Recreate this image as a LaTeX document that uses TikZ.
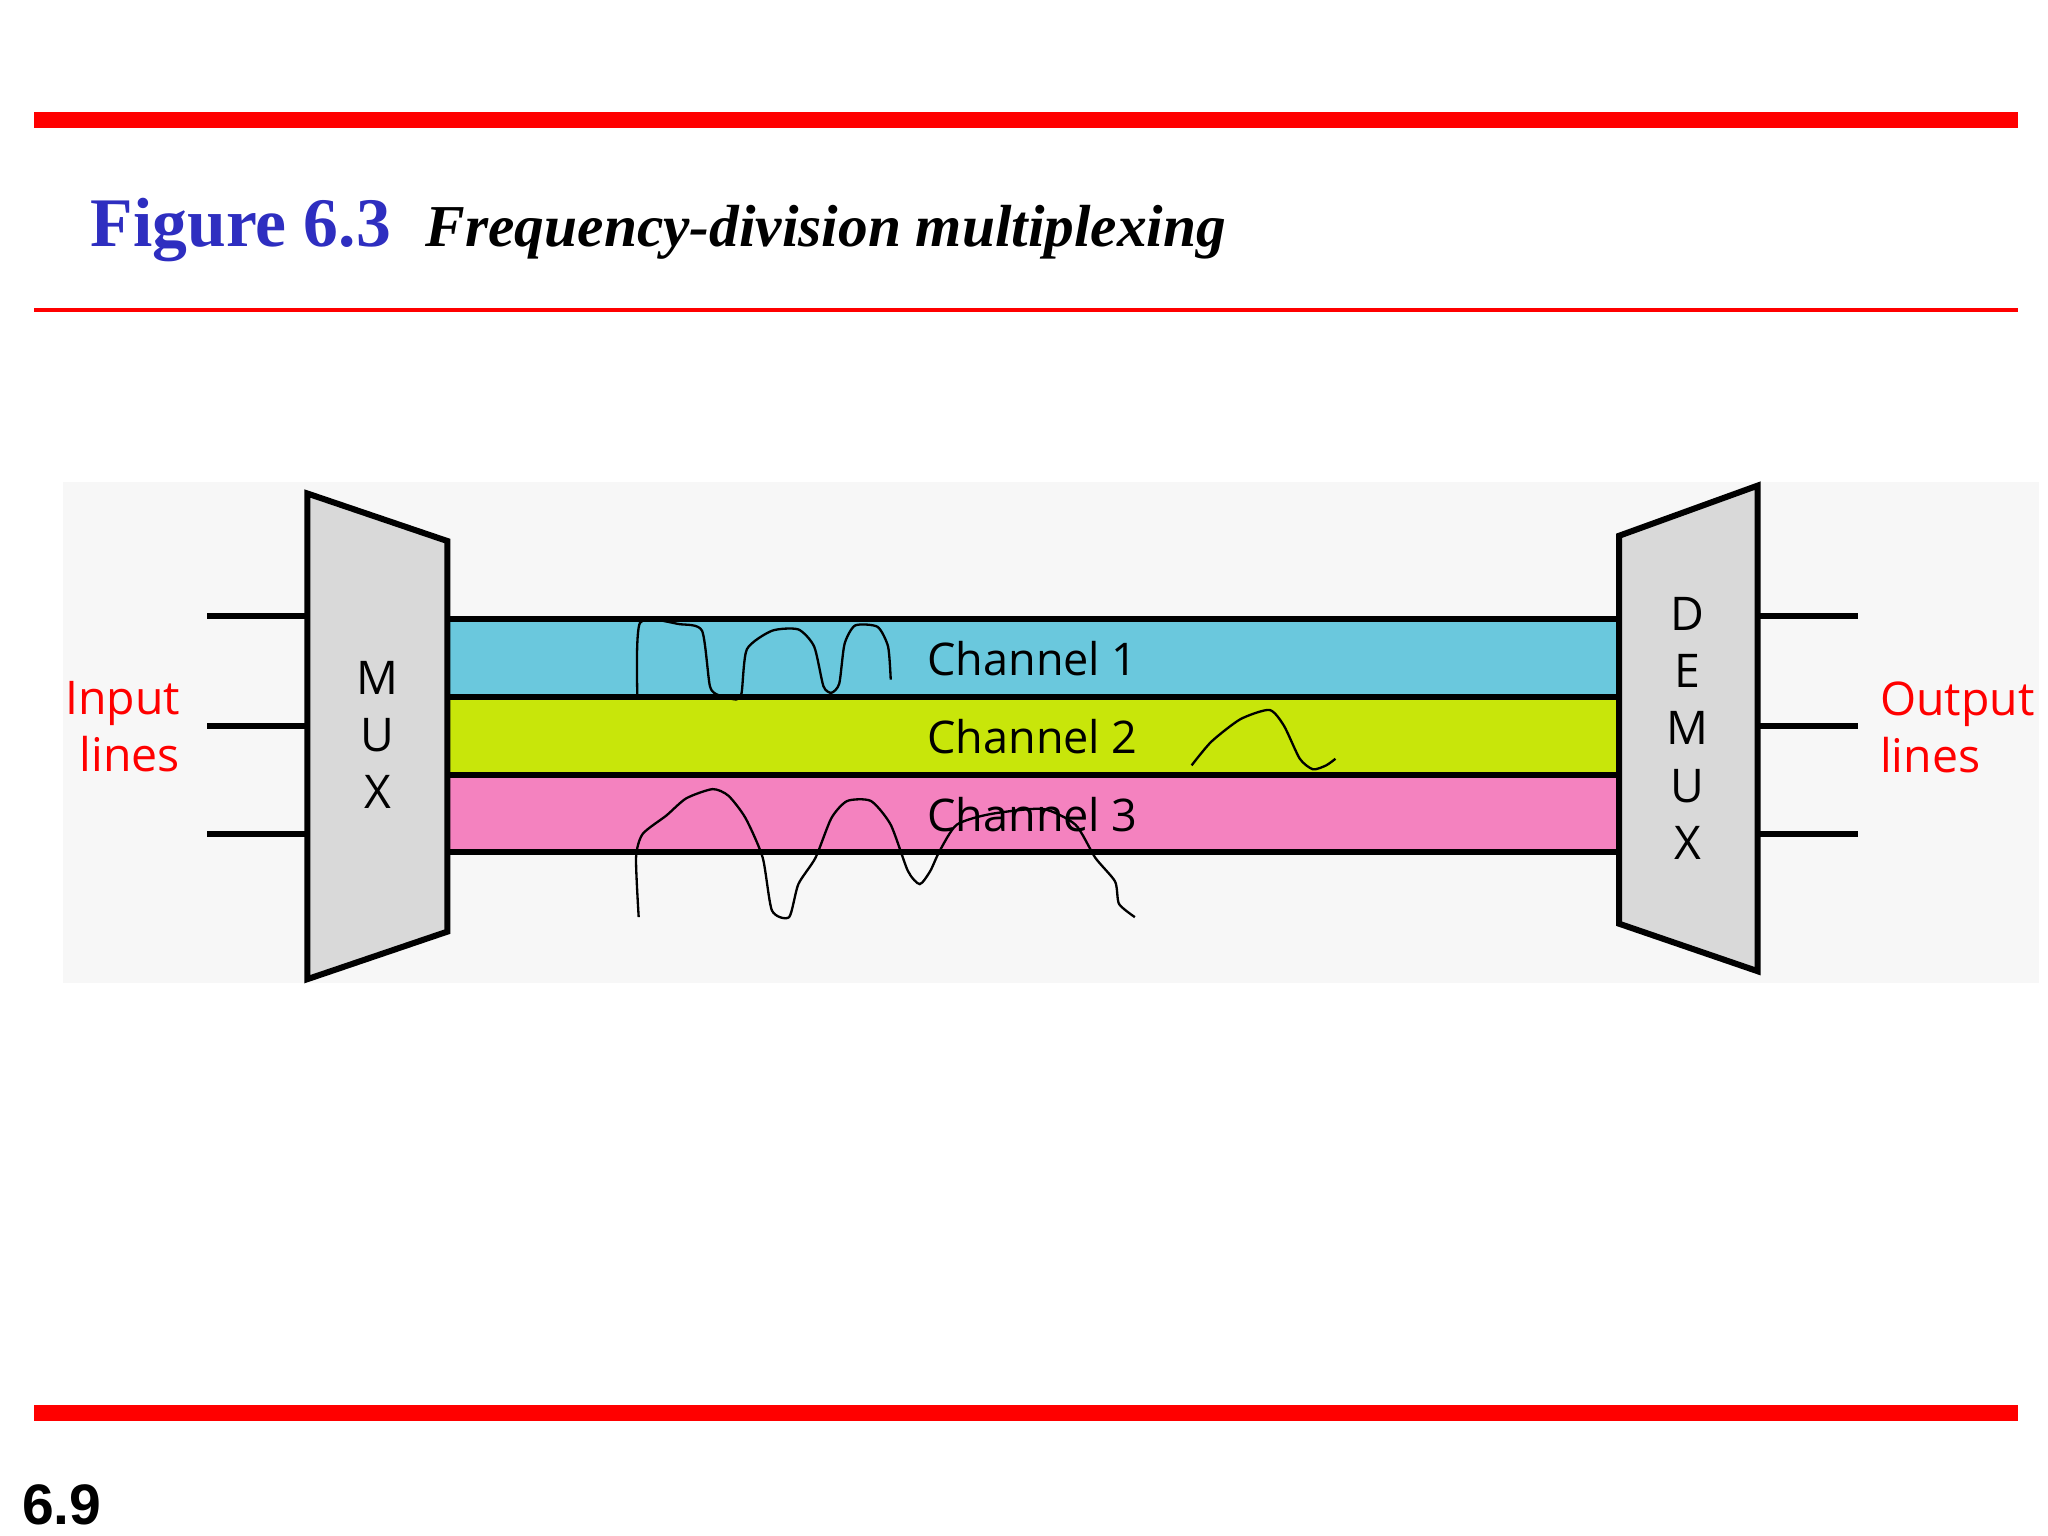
\documentclass[tikz,border=0pt]{standalone}
\usepackage{fontspec}
\setmainfont{Liberation Serif}
\newfontfamily\chfont{Open Sans}
\newfontfamily\pgfont{Liberation Sans}
\definecolor{cyanch}{HTML}{6AC8DD}
\definecolor{limech}{HTML}{C8E60A}
\definecolor{pinkch}{HTML}{F482BF}
\definecolor{boxgray}{HTML}{D9D9D9}
\definecolor{figblue}{HTML}{2E2EC0}
\begin{document}
\begin{tikzpicture}[x=0.01cm,y=-0.01cm,
  lbl/.style={font=\chfont\fontsize{9.7}{12}\selectfont, inner sep=0pt},
  side/.style={lbl, font=\chfont\fontsize{10}{12.3}\selectfont},
  wire/.style={line width=1.3pt},
  hand/.style={line width=0.5pt}]
\useasboundingbox (0,0) rectangle (1552,1164);
\fill[white] (0,0) rectangle (1552,1164);
% red rules
\fill[red] (26,85) rectangle (1529,97);
\fill[red] (26,233.5) rectangle (1529,236.5);
\fill[red] (26,1065) rectangle (1529,1077);
% title
\node[anchor=base west, inner sep=0pt, text=figblue, font=\bfseries\fontsize{15}{18}\selectfont] (fig) at (68,187) {Figure 6.3};
\node[anchor=base west, inner sep=0pt, font=\bfseries\itshape\fontsize{12.8}{15}\selectfont] (ttl) at (322,187) {Frequency-division multiplexing};
% background
\fill[black!3] (48,365) rectangle (1545,745);
% channels
\draw[wire, fill=cyanch] (339,469) rectangle (1227,528);
\draw[wire, fill=limech] (339,528) rectangle (1227,587);
\draw[wire, fill=pinkch] (339,587) rectangle (1227,646);
% wires
\foreach \y in {467,550,632}{
  \draw[wire] (157,\y) -- (233,\y);
  \draw[wire] (1332,\y) -- (1408,\y);}
% mux / demux
\draw[wire, fill=boxgray] (233,374) -- (339,410) -- (339,706) -- (233,742) -- cycle;
\draw[wire, fill=boxgray] (1227,406) -- (1332,368) -- (1332,736) -- (1227,700) -- cycle;
\node[side, align=center] (mux) at (286,557) {M\\U\\X};
\node[side, align=center] (demux) at (1279,552) {D\\E\\M\\U\\X};
% channel labels
\node[lbl, anchor=west] (c1) at (702,499) {Channel 1};
\node[lbl, anchor=west] (c2) at (702,558) {Channel 2};
\node[lbl, anchor=west] (c3) at (702,617) {Channel 3};
% side labels
\node[side, text=red, align=right, anchor=east] (in) at (137,551) {Input\\lines};
\node[side, text=red, align=left, anchor=west] (out) at (1424,551) {Output\\lines};
% hand-drawn curves
\draw[hand] plot[smooth, tension=0.4] coordinates {(483,527) (485,472) (515,473) (532,478) (538,520) (545,527) (558,530) (562,525) (566,492) (585,478) (605,477) (617,490) (624,520) (630,525) (636,518) (640,488) (648,474) (665,475) (673,490) (675,515)};
\draw[hand] plot[smooth, tension=0.4] coordinates {(903,580) (918,562) (940,545) (962,538) (973,550) (985,575) (995,583) (1005,580) (1012,575)};
\draw[hand] plot[smooth, tension=0.4] coordinates {(484,695) (482,650) (487,632) (505,618) (520,605) (540,598) (552,603) (565,620) (578,650) (585,690) (598,695) (605,670) (618,650) (630,620) (642,607) (660,607) (675,625) (688,660) (697,670) (705,660) (712,645) (725,625) (750,617) (790,613) (815,625) (830,650) (845,668) (848,685) (860,695)};
% page number
\node[anchor=base west, inner sep=0pt, font=\pgfont\bfseries\fontsize{12.3}{14}\selectfont] (pg) at (16,1155) {6.9};
\end{tikzpicture}
\end{document}
